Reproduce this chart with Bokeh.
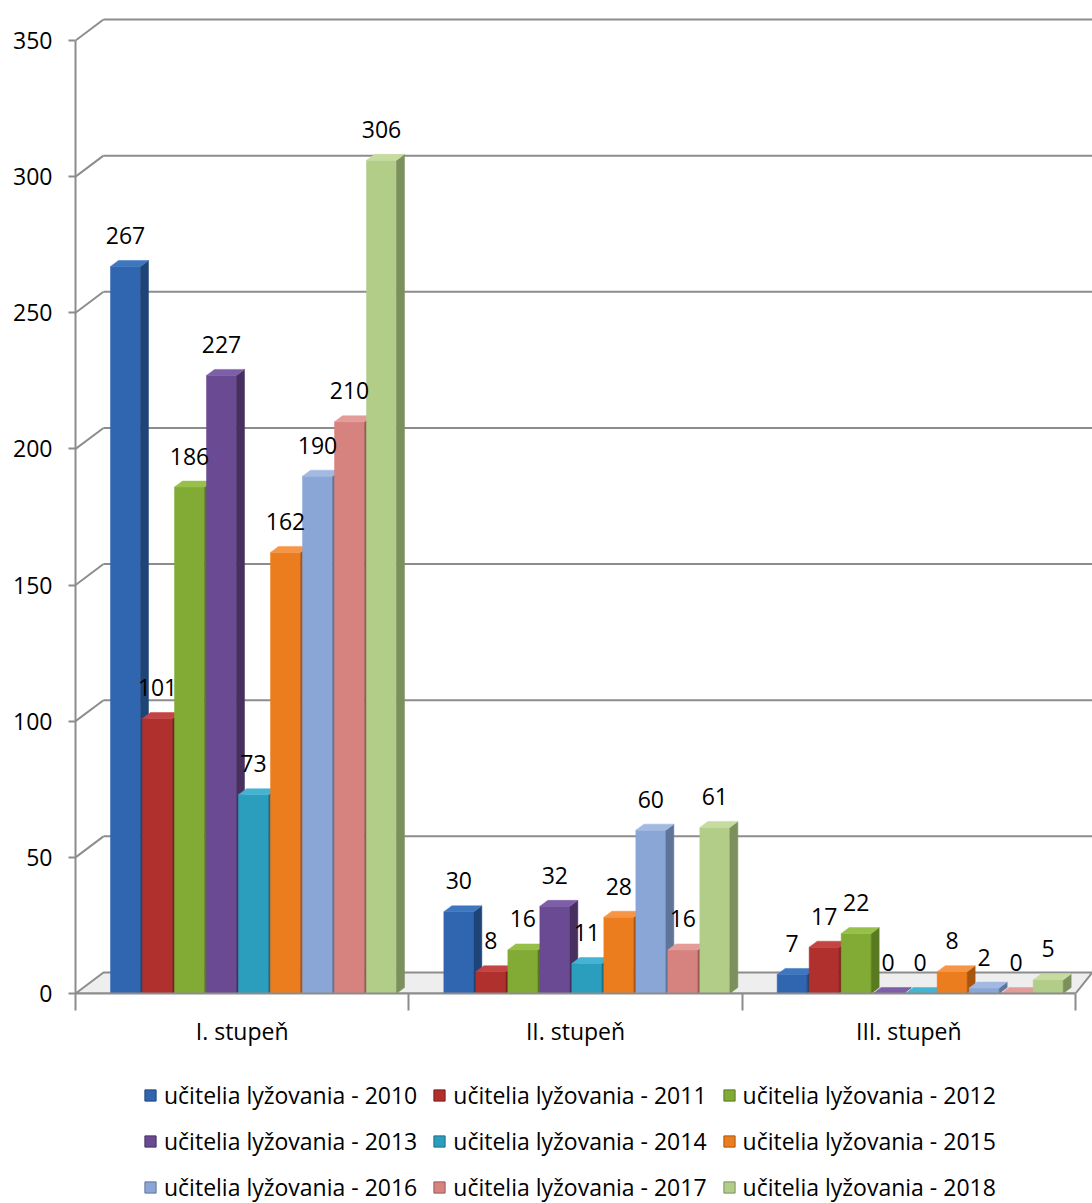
import numpy as np
from bokeh.plotting import figure
from bokeh.layouts import column
from bokeh.models import Range1d, FixedTicker, Legend, LegendItem, ColumnDataSource
from bokeh.embed import file_html
from bokeh.resources import INLINE
from bokeh.core.properties import value

# ---------------- data ----------------
categories = ["I. stupeň", "II. stupeň", "III. stupeň"]
series_names = [
    "učitelia lyžovania - 2010", "učitelia lyžovania - 2011", "učitelia lyžovania - 2012",
    "učitelia lyžovania - 2013", "učitelia lyžovania - 2014", "učitelia lyžovania - 2015",
    "učitelia lyžovania - 2016", "učitelia lyžovania - 2017", "učitelia lyžovania - 2018",
]
v2010 = [267, 30, 7]
v2011 = [101, 8, 17]
v2012 = [186, 16, 22]
v2013 = [227, 32, 0]
v2014 = [73, 11, 0]
v2015 = [162, 28, 8]
v2016 = [190, 60, 2]
v2017 = [210, 16, 0]
v2018 = [306, 61, 5]
series_values = [v2010, v2011, v2012, v2013, v2014, v2015, v2016, v2017, v2018]
y_ticks = [0, 50, 100, 150, 200, 250, 300, 350]

# ---------------- styles ----------------
front_colors = ["#2F66AF", "#B0302E", "#82AB35", "#6A4A92", "#2B9EBE",
                "#EB7D1E", "#8AA6D6", "#D68380", "#B2CD88"]
side_colors = ["#1F4578", "#7A1E1E", "#5A7A22", "#47305F", "#1C6F86",
               "#A85510", "#5E7599", "#9A5A58", "#7C905E"]
top_colors = ["#3E76C0", "#C44444", "#97C04A", "#7D5EA8", "#45B3D2",
              "#F69545", "#A2B9E2", "#E49C99", "#C6DB9F"]
GRID = "#8C8C8C"
FONT = "Open Sans"
FS = "23px"

W, H = 1092, 1203
CHART_H = 1065
LEGEND_H = H - CHART_H
LEFT = 75
FRAME_W, FRAME_H = W - LEFT, 993
PX_PER_CAT = 1000 / 3
Y_TOP = 350
PX_PER_UNIT = 953 / Y_TOP
PX = 1 / PX_PER_CAT          # category units per pixel
PY = 1 / PX_PER_UNIT         # value units per pixel
x_end = FRAME_W * PX
y_end = FRAME_H * PY

WALL_DX, WALL_DY = 28 * PX, 21 * PY
BAR_START, BAR_PITCH, BAR_W = 35 * PX, 32 * PX, 30 * PX
BAR_DX, BAR_DY = 8 * PX, 6 * PY

p = figure(width=W, height=CHART_H,
           x_range=Range1d(0, x_end), y_range=Range1d(0, y_end),
           output_backend="svg", toolbar_location=None,
           min_border_left=LEFT, min_border_right=0, min_border_top=0,
           min_border_bottom=CHART_H - FRAME_H)
p.outline_line_color = None
p.xgrid.visible = False
p.ygrid.visible = False
p.background_fill_color = "white"
p.border_fill_color = "white"

# ---------------- walls / floor ----------------
n_cat = len(categories)
floor_src = ColumnDataSource(dict(
    xs=[[0, n_cat, n_cat + WALL_DX * 0.6, WALL_DX]],
    ys=[[0, 0, WALL_DY, WALL_DY]],
))
p.patches("xs", "ys", source=floor_src, fill_color="#EEEEEE", line_color=GRID, line_width=2)

grid_ticks = [t for t in y_ticks if t > 0]
p.segment(x0=[0] * len(grid_ticks), y0=grid_ticks,
          x1=[WALL_DX] * len(grid_ticks), y1=[t + WALL_DY for t in grid_ticks],
          line_color=GRID, line_width=2)
p.segment(x0=[WALL_DX] * len(grid_ticks), y0=[t + WALL_DY for t in grid_ticks],
          x1=[x_end] * len(grid_ticks), y1=[t + WALL_DY for t in grid_ticks],
          line_color=GRID, line_width=2)

# ---------------- bars ----------------
label_x, label_y, label_t = [], [], []
for j, (name, vals) in enumerate(zip(series_names, series_values)):
    x0 = [i + BAR_START + j * BAR_PITCH for i in range(n_cat)]
    x1 = [a + BAR_W for a in x0]
    p.quad(left=x0, right=x1, bottom=[0] * n_cat, top=vals,
           fill_color=front_colors[j], line_color=front_colors[j], line_width=0.5)
    side_xs = [[b, b + BAR_DX, b + BAR_DX, b] for b in x1]
    side_ys = [[0, BAR_DY, v + BAR_DY, v] for v in vals]
    p.patches(side_xs, side_ys, fill_color=side_colors[j], line_color=side_colors[j], line_width=0.5)
    top_xs = [[a, b, b + BAR_DX, a + BAR_DX] for a, b in zip(x0, x1)]
    top_ys = [[v, v, v + BAR_DY, v + BAR_DY] for v in vals]
    p.patches(top_xs, top_ys, fill_color=top_colors[j], line_color=top_colors[j], line_width=0.5)
    for a, b, v in zip(x0, x1, vals):
        label_x.append((a + b) / 2)
        label_y.append(v)
        label_t.append(str(v))

p.text(x=label_x, y=label_y, text=label_t, text_align="center", text_baseline="middle",
       y_offset=-31, text_font=value(FONT), text_font_size=FS, text_color="black")

# ---------------- axes ----------------
yax = p.yaxis[0]
yax.ticker = FixedTicker(ticks=y_ticks, minor_ticks=[])
yax.bounds = (0, Y_TOP)
yax.axis_line_color = GRID
yax.axis_line_width = 2
yax.major_tick_line_color = GRID
yax.major_tick_line_width = 2
yax.major_tick_out = 7
yax.major_tick_in = 0
yax.major_label_standoff = 16
yax.major_label_text_font = FONT
yax.major_label_text_font_size = FS
yax.major_label_text_color = "black"

xax = p.xaxis[0]
centers = [i + 0.5 for i in range(n_cat)]
xax.ticker = FixedTicker(ticks=centers, minor_ticks=list(range(n_cat + 1)))
xax.major_label_overrides = {c: lab for c, lab in zip(centers, categories)}
xax.bounds = (0, n_cat)
xax.axis_line_color = GRID
xax.axis_line_width = 2
xax.major_tick_line_color = None
xax.major_tick_out = 0
xax.major_tick_in = 0
xax.minor_tick_line_color = GRID
xax.minor_tick_line_width = 2
xax.minor_tick_out = 17
xax.minor_tick_in = 0
xax.major_label_standoff = 4
xax.major_label_text_font = FONT
xax.major_label_text_font_size = FS
xax.major_label_text_color = "black"

# ---------------- legend strip (separate plot, three rows of three) ----------------
lp = figure(width=W, height=LEGEND_H, x_range=Range1d(0, 1), y_range=Range1d(0, 1),
            output_backend="svg", toolbar_location=None,
            x_axis_location=None, y_axis_location=None,
            min_border_left=LEFT, min_border_right=0, min_border_top=0, min_border_bottom=0)
lp.outline_line_color = None
lp.xgrid.visible = False
lp.ygrid.visible = False
lp.background_fill_color = "white"
lp.border_fill_color = "white"

legend_items = []
nan = np.array([np.nan])
for j, name in enumerate(series_names):
    r = lp.quad(left=nan, right=nan, bottom=nan, top=nan,
                fill_color=front_colors[j], line_color=side_colors[j], line_width=1)
    legend_items.append(LegendItem(label=name, renderers=[r]))

ROW_H = 32
LEGEND_X = 143 - LEFT
ROW_CENTER_FROM_TOP = [30, 76, 122]
for row in range(3):
    lg = Legend(items=legend_items[row * 3:(row + 1) * 3], orientation="horizontal",
                location=(LEGEND_X, LEGEND_H - ROW_CENTER_FROM_TOP[row] - ROW_H // 2))
    lg.label_text_font = FONT
    lg.label_text_font_size = FS
    lg.label_text_color = "black"
    lg.label_height = ROW_H
    lg.glyph_width = 14
    lg.glyph_height = 14
    lg.label_standoff = 7
    lg.spacing = 15
    lg.padding = 0
    lg.margin = 0
    lg.border_line_color = None
    lg.background_fill_alpha = 0
    lp.add_layout(lg, "center")

layout = column(p, lp, spacing=0)
open("out.html", "w").write(file_html(layout, INLINE))
